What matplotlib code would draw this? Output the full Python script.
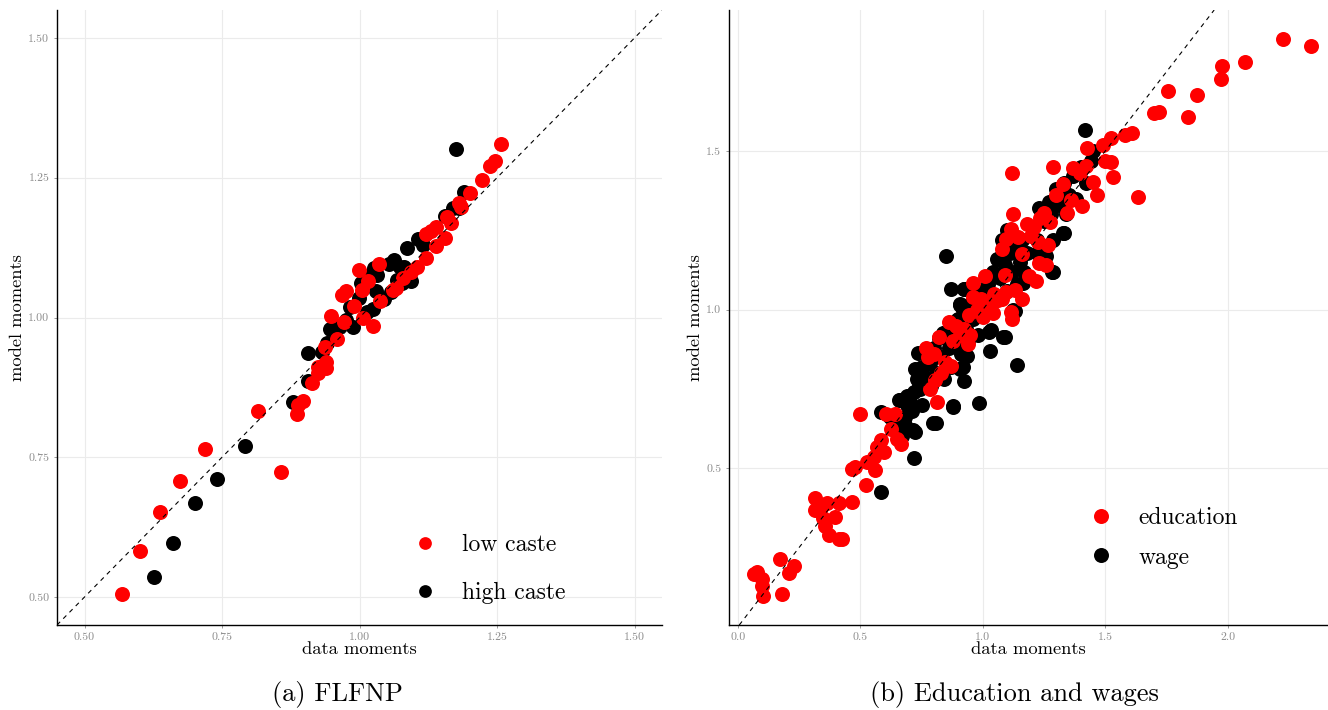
# model fit: data moments vs model moments, two panels
import numpy as np
import matplotlib.pyplot as plt

plt.rcParams['font.family'] = ['cmr10', 'DejaVu Serif']
plt.rcParams['axes.formatter.use_mathtext'] = True

# panel (a) FLFNP
low_x = [0.569, 0.600, 0.638, 0.673, 0.719, 0.816, 0.857, 0.886, 0.888, 0.898,
         0.913, 0.925, 0.925, 0.939, 0.939, 0.937, 0.959, 0.949, 0.972, 0.968,
         0.976, 0.990, 0.999, 1.005, 1.006, 1.016, 1.025, 1.035, 1.037, 1.061,
         1.079, 1.094, 1.104, 1.120, 1.121, 1.130, 1.139, 1.139, 1.155, 1.159,
         1.167, 1.181, 1.184, 1.201, 1.222, 1.237, 1.247, 1.257, 1.066]
low_y = [0.505, 0.583, 0.652, 0.707, 0.764, 0.832, 0.723, 0.827, 0.843, 0.850,
         0.883, 0.900, 0.912, 0.910, 0.920, 0.948, 0.962, 1.002, 0.992, 1.041,
         1.047, 1.020, 1.085, 1.049, 1.000, 1.066, 0.984, 1.095, 1.029, 1.049,
         1.070, 1.081, 1.090, 1.106, 1.149, 1.155, 1.161, 1.127, 1.143, 1.180,
         1.169, 1.205, 1.198, 1.223, 1.246, 1.271, 1.280, 1.310, 1.052]

high_x = [0.627, 0.661, 0.701, 0.741, 0.792, 0.879, 0.907, 0.906, 0.932, 0.941,
          0.947, 0.963, 0.976, 0.988, 0.982, 0.999, 1.003, 1.013, 1.024, 1.027,
          1.032, 1.030, 1.044, 1.054, 1.062, 1.073, 1.081, 1.068, 1.058, 1.077,
          1.093, 1.087, 1.107, 1.116, 1.155, 1.170, 1.176, 1.190, 1.180, 1.016]
high_y = [0.536, 0.596, 0.669, 0.712, 0.771, 0.848, 0.936, 0.886, 0.939, 0.955,
          0.979, 0.983, 0.996, 0.983, 1.019, 1.035, 1.062, 1.009, 1.015, 1.088,
          1.076, 1.047, 1.033, 1.096, 1.102, 1.090, 1.090, 1.067, 1.045, 1.062,
          1.066, 1.124, 1.140, 1.129, 1.181, 1.195, 1.301, 1.225, 1.195, 1.074]

# panel (b) education and wages
edu_x = [0.076, 0.064, 0.098, 0.098, 0.101, 0.170, 0.181, 0.208, 0.227, 0.316,
         0.316, 0.344, 0.365, 0.347, 0.356, 0.370, 0.394, 0.414, 0.414, 0.425,
         0.464, 0.464, 0.478, 0.499, 0.521, 0.528, 0.561, 0.554, 0.566, 0.583,
         0.597, 0.626, 0.605, 0.640, 0.648, 0.666, 0.786, 0.812, 0.803, 0.769,
         0.777, 0.820, 0.846, 0.868, 0.863, 0.889, 0.906, 0.941, 0.949, 0.944,
         0.961, 1.009, 0.958, 0.992, 1.001, 1.027, 1.044, 1.078, 1.095, 1.113,
         1.121, 1.090, 1.130, 1.159, 1.078, 1.095, 1.113, 1.144, 1.123, 1.121,
         1.161, 1.190, 1.219, 1.181, 1.198, 1.224, 1.229, 1.259, 1.267, 1.233,
         1.250, 1.276, 1.285, 1.298, 1.328, 1.345, 1.361, 1.367, 1.396, 1.405,
         1.422, 1.427, 1.448, 1.465, 1.490, 1.522, 1.525, 1.500, 1.530, 1.580,
         1.608, 1.634, 1.701, 1.718, 1.758, 1.838, 1.873, 1.972, 1.979, 2.072,
         2.227, 2.342, 0.800, 0.830, 0.880, 0.925, 0.975, 1.060, 1.040, 1.210]
edu_y = [0.171, 0.165, 0.149, 0.129, 0.095, 0.212, 0.104, 0.169, 0.192, 0.405,
         0.368, 0.380, 0.391, 0.344, 0.316, 0.290, 0.347, 0.391, 0.277, 0.277,
         0.394, 0.498, 0.504, 0.670, 0.447, 0.519, 0.494, 0.536, 0.568, 0.590,
         0.550, 0.622, 0.671, 0.671, 0.593, 0.575, 0.750, 0.707, 0.778, 0.878,
         0.849, 0.913, 0.835, 0.821, 0.960, 0.949, 0.920, 0.892, 0.920, 0.984,
         1.084, 1.105, 1.041, 1.034, 0.977, 1.006, 1.048, 1.034, 1.055, 0.991,
         0.970, 1.108, 1.063, 1.034, 1.191, 1.223, 1.255, 1.229, 1.300, 1.432,
         1.176, 1.105, 1.091, 1.269, 1.233, 1.212, 1.148, 1.141, 1.205, 1.290,
         1.304, 1.276, 1.450, 1.361, 1.397, 1.304, 1.347, 1.447, 1.432, 1.326,
         1.454, 1.511, 1.404, 1.361, 1.518, 1.542, 1.464, 1.468, 1.418, 1.551,
         1.558, 1.354, 1.620, 1.624, 1.691, 1.607, 1.676, 1.727, 1.767, 1.782,
         1.855, 1.831, 0.860, 0.800, 0.900, 0.940, 1.000, 1.030, 0.990, 1.260]

wage_x = [0.583, 0.717, 0.721, 0.657, 0.585, 0.808, 0.880, 0.984, 0.923, 1.030,
          1.035, 1.092, 1.138, 1.130, 0.851, 0.868, 0.923, 0.906, 1.419, 1.333,
          1.285, 0.734, 0.743, 0.691, 0.683, 1.082, 1.024, 1.327, 1.282,
          0.62, 0.64, 0.66, 0.67, 0.68, 0.69, 0.70, 0.71, 0.72, 0.73,
          0.74, 0.75, 0.75, 0.76, 0.77, 0.78, 0.79, 0.80, 0.81, 0.82,
          0.83, 0.84, 0.85, 0.86, 0.87, 0.88, 0.89, 0.90, 0.91, 0.92,
          0.93, 0.94, 0.95, 0.96, 0.97, 0.98, 1.00, 1.01, 1.02, 1.04,
          1.05, 1.06, 1.07, 1.08, 1.09, 1.10, 1.10, 1.11, 1.12, 1.13,
          1.14, 1.15, 1.16, 1.17, 1.18, 1.20, 1.22, 1.23, 1.25, 1.26,
          1.27, 1.28, 1.30, 1.31, 1.33, 1.34, 1.35, 1.37, 1.38, 1.40,
          1.42, 1.45, 1.44,
          0.922, 0.906, 0.878, 0.796, 0.722, 0.661, 0.714, 0.918, 1.122, 1.098,
          1.057, 1.016, 0.894, 0.837, 0.784, 0.743, 0.702, 0.935, 0.906, 1.163,
          1.220, 1.286]
wage_y = [0.425, 0.533, 0.615, 0.715, 0.676, 0.643, 0.696, 0.704, 0.775, 0.868,
          0.935, 0.913, 0.824, 0.994, 1.168, 1.065, 1.065, 1.017, 1.568, 1.240,
          1.119, 0.863, 0.814, 0.728, 0.636, 0.915, 0.930, 1.243, 1.120,
          0.66, 0.62, 0.64, 0.60, 0.66, 0.70, 0.72, 0.68, 0.74, 0.78,
          0.76, 0.70, 0.82, 0.79, 0.86, 0.83, 0.76, 0.88, 0.80, 0.91,
          0.85, 0.78, 0.93, 0.88, 0.82, 0.95, 0.90, 0.97, 0.86, 1.00,
          0.94, 0.90, 1.02, 0.97, 1.04, 0.92, 1.06, 1.00, 1.08, 1.12,
          1.03, 1.16, 1.10, 1.22, 1.14, 1.06, 1.25, 1.18, 1.12, 1.20,
          1.08, 1.15, 1.22, 1.12, 1.18, 1.26, 1.22, 1.32, 1.28, 1.17,
          1.34, 1.30, 1.38, 1.33, 1.40, 1.30, 1.36, 1.42, 1.35, 1.45,
          1.40, 1.50, 1.47,
          1.066, 1.016, 0.694, 0.643, 0.811, 0.716, 0.621, 0.820, 1.000, 1.199,
          1.158, 1.104, 0.968, 0.927, 0.833, 0.748, 0.707, 0.852, 0.811, 1.085,
          1.180, 1.221]

fig = plt.figure(figsize=(13.28, 7.10), dpi=100)
W, H = 1328, 710
ax1 = fig.add_axes([57 / W, 85 / H, 605 / W, 615 / H])
ax2 = fig.add_axes([729 / W, 85 / H, 599 / W, 615 / H])

def style(ax):
    ax.grid(True, color='#ebebeb', linewidth=0.8)
    ax.set_axisbelow(True)
    for s in ['top', 'right']:
        ax.spines[s].set_visible(False)
    for s in ['left', 'bottom']:
        ax.spines[s].set_linewidth(1.0)
    ax.tick_params(length=2.5, width=0.6, color='#8c8c8c', labelsize=8.5,
                   labelcolor='#8c8c8c', pad=3)
    ax.set_xlabel('data moments', fontsize=13.3, labelpad=0)
    ax.set_ylabel('model moments', fontsize=13.3, labelpad=2)
    ax.axline((0, 0), slope=1, color='black', linewidth=0.8, linestyle=(0, (4, 4)))

ms = 10.8
ax1.plot(high_x, high_y, 'o', color='black', ms=ms, mec='none', label='high caste')
ax1.plot(low_x, low_y, 'o', color='#ff0000', ms=ms, mec='none', label='low caste')
style(ax1)
ax1.set_xlim(0.45, 1.55)
ax1.set_ylim(0.45, 1.55)
ticks1 = [0.50, 0.75, 1.00, 1.25, 1.50]
ax1.set_xticks(ticks1, ['%.2f' % t for t in ticks1])
ax1.set_yticks(ticks1, ['%.2f' % t for t in ticks1])
h, l = ax1.get_legend_handles_labels()
ax1.legend(h[::-1], l[::-1], loc='center left', bbox_to_anchor=(0.553, 0.091),
           frameon=False, fontsize=17, markerscale=0.85, handlelength=1.0,
           handletextpad=1.1, labelspacing=1.1)

ax2.plot(wage_x, wage_y, 'o', color='black', ms=ms, mec='none', label='wage')
ax2.plot(edu_x, edu_y, 'o', color='#ff0000', ms=ms, mec='none', label='education')
style(ax2)
ax2.set_xlim(-0.037, 2.41)
ax2.set_ylim(0.005, 1.945)
ticks2x = [0.0, 0.5, 1.0, 1.5, 2.0]
ticks2y = [0.5, 1.0, 1.5]
ax2.set_xticks(ticks2x, ['%.1f' % t for t in ticks2x])
ax2.set_yticks(ticks2y, ['%.1f' % t for t in ticks2y])
h, l = ax2.get_legend_handles_labels()
ax2.legend(h[::-1], l[::-1], loc='center left', bbox_to_anchor=(0.566, 0.142),
           frameon=False, fontsize=17, markerscale=1.0, handlelength=1.0,
           handletextpad=1.1, labelspacing=0.75)

fig.text(337 / W, 1 - 695 / H, '(a) FLFNP', ha='center', va='center', fontsize=19)
fig.text(1014 / W, 1 - 695 / H, '(b) Education and wages', ha='center', va='center', fontsize=19)

fig.savefig('out.png', dpi=100)
